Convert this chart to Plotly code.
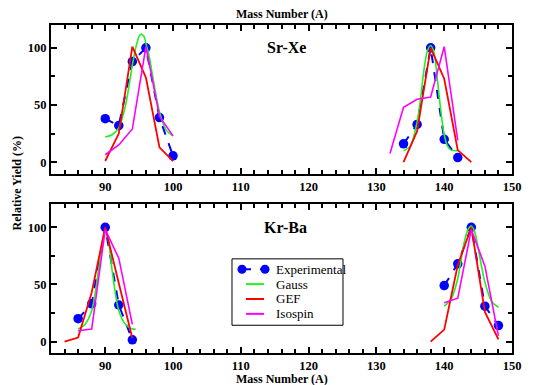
import plotly.graph_objects as go

# ---- data (None separates light / heavy fragment groups) ----
SRXE_EXP_A = [90, 92, 94, 96, 98, 100, None, 134, 136, 138, 140, 142]
SRXE_EXP_Y = [38, 32, 88, 100, 39, 5.5, None, 16, 33, 100, 20, 4]

SRXE_GAUSS_A = [90, 91, 92, 93, 94, 94.5, 95, 95.3, 95.7, 96, 96.5, 97, 98, 99, 100,
                None, 134, 135, 136, 136.5, 137, 137.5, 138, 138.5, 139, 139.5, 140, 140.5, 141, 142]
SRXE_GAUSS_Y = [22, 24, 30, 50, 85, 100, 110, 112, 110, 104, 92, 75, 44, 28, 23,
                None, 10, 14, 35, 55, 80, 97, 102, 96, 72, 45, 24, 14, 10.5, 10]

SRXE_GEF_A = [90, 92, 94, 96, 98, 100, None, 134, 136, 138, 140, 142, 144]
SRXE_GEF_Y = [1, 25, 101, 74, 13, 1, None, 0, 27, 100, 73, 10.5, 0]

SRXE_ISO_A = [90, 92, 94, 96, 98, 100, None, 132, 134, 136, 138, 140, 142]
SRXE_ISO_Y = [6.5, 15, 29, 101, 40, 23, None, 7.5, 48, 55, 57, 101, 19]

KRBA_EXP_A = [86, 88, 90, 92, 94, None, 140, 142, 144, 146, 148]
KRBA_EXP_Y = [20, 33, 100, 32, 1.5, None, 49, 68, 100, 31, 14]

KRBA_GAUSS_A = [86, 87, 88, 89, 89.5, 90, 90.5, 91, 92, 93, 94, 94.5,
                None, 140, 141, 142, 142.5, 143, 143.5, 144, 144.5, 145, 146, 147, 148]
KRBA_GAUSS_Y = [11, 15, 27, 62, 85, 98, 88, 63, 27, 15, 11, 11,
                None, 31, 37, 55, 72, 88, 98, 101, 96, 82, 52, 35, 30]

KRBA_GEF_A = [84, 86, 88, 90, 92, 94, None, 138, 140, 142, 144, 146, 148]
KRBA_GEF_Y = [0, 3.5, 43, 100, 51, 3, None, 0, 10.5, 67, 100, 26, 2]

KRBA_ISO_A = [86, 88, 90, 92, 94, None, 140, 142, 144, 146, 148]
KRBA_ISO_Y = [9.5, 11, 98, 73, 15, None, 34, 38, 98, 66, 5]

PANEL_LABELS = ["Sr-Xe", "Kr-Ba"]
SERIES_NAMES = ["Experimental", "Gauss", "GEF", "Isospin"]
X_TITLE = "Mass Number (A)"
Y_TITLE = "Relative Yield (%)"

BLUE, GREEN, RED, MAG = "#0000ff", "#22ee22", "#ff0000", "#ff00ff"
COLORS = [BLUE, GREEN, RED, MAG]
SERIF = "Liberation Serif"

fig = go.Figure()

def add_panel(xa, ya, exp, gauss, gef, iso):
    fig.add_trace(go.Scatter(x=exp[0], y=exp[1], mode="lines+markers", name=SERIES_NAMES[0],
                             line=dict(color=BLUE, width=2, dash="dash"),
                             marker=dict(color=BLUE, size=9.5, symbol="circle"),
                             xaxis=xa, yaxis=ya, showlegend=False, connectgaps=False))
    fig.add_trace(go.Scatter(x=gauss[0], y=gauss[1], mode="lines", name=SERIES_NAMES[1],
                             line=dict(color=GREEN, width=1.6, shape="spline", smoothing=0.8),
                             xaxis=xa, yaxis=ya, showlegend=False, connectgaps=False))
    fig.add_trace(go.Scatter(x=gef[0], y=gef[1], mode="lines", name=SERIES_NAMES[2],
                             line=dict(color=RED, width=1.8),
                             xaxis=xa, yaxis=ya, showlegend=False, connectgaps=False))
    fig.add_trace(go.Scatter(x=iso[0], y=iso[1], mode="lines", name=SERIES_NAMES[3],
                             line=dict(color=MAG, width=1.6),
                             xaxis=xa, yaxis=ya, showlegend=False, connectgaps=False))

add_panel("x", "y", (SRXE_EXP_A, SRXE_EXP_Y), (SRXE_GAUSS_A, SRXE_GAUSS_Y),
          (SRXE_GEF_A, SRXE_GEF_Y), (SRXE_ISO_A, SRXE_ISO_Y))
add_panel("x2", "y2", (KRBA_EXP_A, KRBA_EXP_Y), (KRBA_GAUSS_A, KRBA_GAUSS_Y),
          (KRBA_GEF_A, KRBA_GEF_Y), (KRBA_ISO_A, KRBA_ISO_Y))

tickfont = dict(family=SERIF, size=12.5, color="black", weight="bold")

def xaxis(anchor):
    return dict(range=[82, 150], dtick=10, tick0=0, showgrid=False, zeroline=False,
                showline=True, linewidth=2, linecolor="black", mirror="allticks",
                ticks="inside", ticklen=6, tickwidth=2, tickcolor="black",
                minor=dict(ticks="inside", dtick=2, ticklen=4, tickwidth=1.5, tickcolor="black"),
                tickfont=tickfont, anchor=anchor)

def yaxis(domain, anchor):
    return dict(range=[-10, 120], dtick=50, tick0=0, showgrid=False, zeroline=False,
                showline=True, linewidth=2, linecolor="black", mirror="allticks",
                ticks="inside", ticklen=6, tickwidth=2, tickcolor="black",
                minor=dict(ticks="inside", dtick=25, ticklen=4, tickwidth=1.5, tickcolor="black"),
                tickfont=tickfont, domain=domain, anchor=anchor)

# page has an 8px body margin: figure is 526x377 placed at (8, 8)
fig.update_layout(
    width=526, height=377,
    margin=dict(l=43, r=22, t=17, b=29),
    paper_bgcolor="white", plot_bgcolor="white",
    xaxis=xaxis("y"), yaxis=yaxis([0.547, 1.0], "x"),
    xaxis2=xaxis("y2"), yaxis2=yaxis([0.0, 0.453], "x2"),
    showlegend=False,
)

annots = [
    dict(text=PANEL_LABELS[0], x=116.7, y=100, xref="x", yref="y", showarrow=False,
         font=dict(family=SERIF, size=16, color="black", weight="bold")),
    dict(text=PANEL_LABELS[1], x=116.6, y=100, xref="x2", yref="y2", showarrow=False,
         font=dict(family=SERIF, size=16, color="black", weight="bold")),
    dict(text=X_TITLE, x=0.5, y=1.0, xref="paper", yref="paper", yshift=11,
         xanchor="center", yanchor="middle", showarrow=False,
         font=dict(family=SERIF, size=12, color="black", weight="bold")),
    dict(text=X_TITLE, x=0.5, y=0.0, xref="paper", yref="paper", yshift=-26,
         xanchor="center", yanchor="middle", showarrow=False,
         font=dict(family=SERIF, size=12, color="black", weight="bold")),
    dict(text=Y_TITLE, x=0.0, y=0.517, xref="paper", yref="paper", xshift=-34,
         xanchor="center", yanchor="middle", showarrow=False,
         textangle=-90, font=dict(family=SERIF, size=12, color="black", weight="bold")),
]

# ---- hand-drawn legend box (paper coordinates) ----
shapes = [dict(type="rect", xref="paper", yref="paper", x0=0.3926, x1=0.6334, y0=0.0846, y1=0.287,
               line=dict(color="black", width=1), fillcolor="white", layer="above")]
rows_y = [0.2553, 0.2100, 0.1647, 0.1193]
shapes.append(dict(type="line", xref="paper", yref="paper", x0=0.4143, x1=0.4642,
                   y0=rows_y[0], y1=rows_y[0], line=dict(color=BLUE, width=2, dash="dash"),
                   layer="above"))
for cx in (0.4143, 0.4642):
    shapes.append(dict(type="circle", xref="paper", yref="paper", xsizemode="pixel",
                       ysizemode="pixel", xanchor=cx, yanchor=rows_y[0],
                       x0=-4.5, x1=4.5, y0=-4.5, y1=4.5, fillcolor=BLUE,
                       line=dict(color=BLUE, width=0), layer="above"))
for i in range(1, 4):
    shapes.append(dict(type="line", xref="paper", yref="paper", x0=0.423, x1=0.462,
                       y0=rows_y[i], y1=rows_y[i], line=dict(color=COLORS[i], width=2),
                       layer="above"))
for i, name in enumerate(SERIES_NAMES):
    annots.append(dict(text=name, x=0.4837, y=rows_y[i], xref="paper", yref="paper",
                       xanchor="left", yanchor="middle", showarrow=False,
                       font=dict(family=SERIF, size=13, color="black")))

fig.update_layout(annotations=annots, shapes=shapes)

fig.write_html("out.html")
